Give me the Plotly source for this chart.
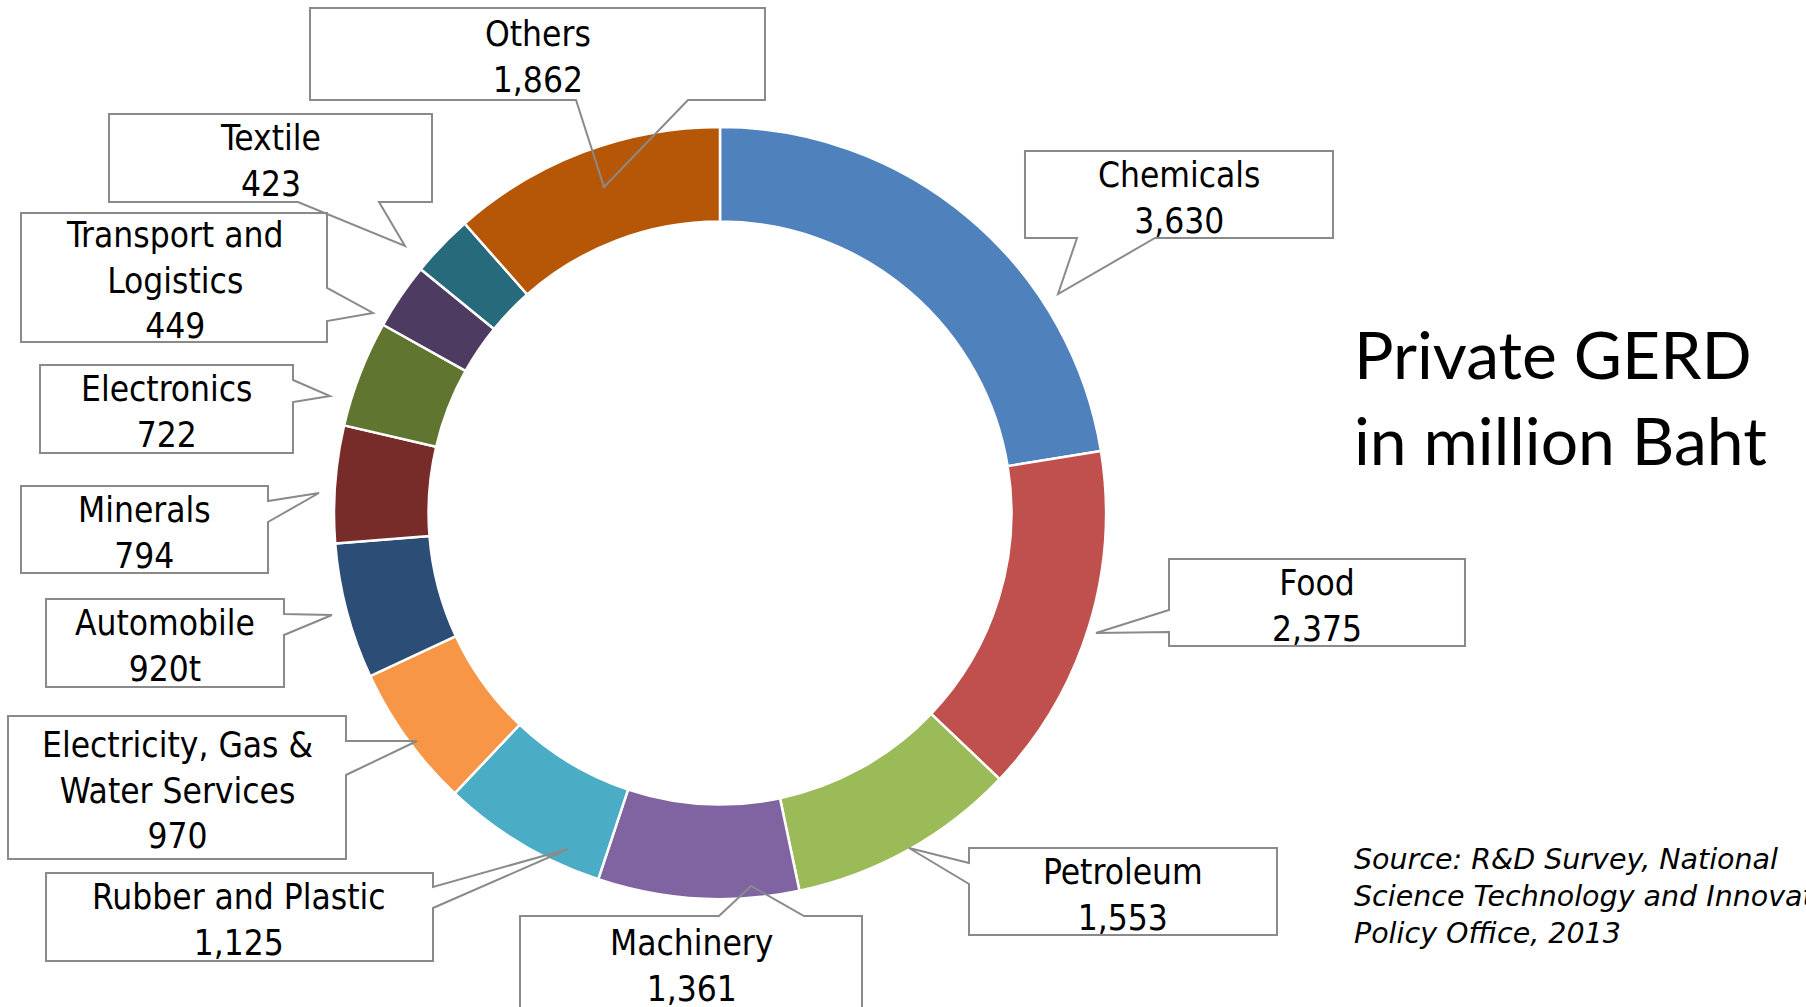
import plotly.graph_objects as go

W, H = 1806, 1007

# ---- data ----
sectors = ["Chemicals", "Food", "Petroleum", "Machinery", "Rubber and Plastic",
           "Electricity, Gas &<br>Water Services", "Automobile", "Minerals",
           "Electronics", "Transport and<br>Logistics", "Textile", "Others"]
values = [3630, 2375, 1553, 1361, 1125, 970, 920, 794, 722, 449, 423, 1862]
value_text = ["3,630", "2,375", "1,553", "1,361", "1,125", "970", "920t", "794",
              "722", "449", "423", "1,862"]
colors = ["#4F81BD", "#C0504D", "#9BBB59", "#8064A2", "#4BACC6", "#F79646",
          "#2C4D75", "#772C2A", "#5F7530", "#4D3B62", "#276A7C", "#B65708"]

# ---- layout (pixel positions of callout boxes) ----
# box = (x0, y0, x1, y1), side of tail, tail base positions along the side, tail tip
callouts = [
    dict(box=(1025, 151, 1333, 238), side="bottom", base=(1077, 1155), tip=(1058, 294)),
    dict(box=(1169, 559, 1465, 646), side="left", base=(610, 632), tip=(1096, 633)),
    dict(box=(969, 848, 1277, 935), side="left", base=(863, 884), tip=(909, 848)),
    dict(box=(520, 916, 862, 1010), side="top", base=(719, 804), tip=(751, 886)),
    dict(box=(46, 873, 433, 961), side="right", base=(887, 908), tip=(568, 849)),
    dict(box=(8, 716, 346, 859), side="right", base=(741, 775), tip=(417, 741)),
    dict(box=(46, 599, 284, 687), side="right", base=(614, 635), tip=(332, 615)),
    dict(box=(21, 486, 268, 573), side="right", base=(501, 522), tip=(319, 493)),
    dict(box=(40, 365, 293, 453), side="right", base=(380, 402), tip=(330, 396)),
    dict(box=(21, 213, 327, 342), side="right", base=(288, 321), tip=(373, 313)),
    dict(box=(109, 114, 432, 202), side="bottom", base=(298, 379), tip=(405, 246)),
    dict(box=(310, 8, 765, 100), side="bottom", base=(576, 688), tip=(604, 187)),
]
LABEL_DY = 3  # text block offset inside boxes (px)

CX, CY, R = 720, 513, 386
HOLE = 0.755

LABEL_FONT = "DejaVu Sans Condensed, Liberation Sans, sans-serif"


def px(x):
    return x / W


def py(y):
    return 1 - y / H


def callout_path(c):
    x0, y0, x1, y1 = c["box"]
    a, b = c["base"]
    tx, ty = c["tip"]
    s = c["side"]
    if s == "bottom":
        pts = [(x0, y0), (x1, y0), (x1, y1), (b, y1), (tx, ty), (a, y1), (x0, y1)]
    elif s == "top":
        pts = [(x0, y0), (a, y0), (tx, ty), (b, y0), (x1, y0), (x1, y1), (x0, y1)]
    elif s == "right":
        pts = [(x0, y0), (x1, y0), (x1, a), (tx, ty), (x1, b), (x1, y1), (x0, y1)]
    else:
        pts = [(x0, y0), (x1, y0), (x1, y1), (x0, y1), (x0, b), (tx, ty), (x0, a)]
    d = "M " + " L ".join(f"{px(x):.5f},{py(y):.5f}" for x, y in pts) + " Z"
    return d


fig = go.Figure()
fig.add_trace(go.Pie(
    labels=[s.replace("<br>", " ") for s in sectors],
    values=values,
    sort=False,
    direction="clockwise",
    rotation=0,
    hole=HOLE,
    textinfo="none",
    marker=dict(colors=colors, line=dict(color="white", width=2.5)),
    domain=dict(x=[px(CX - R), px(CX + R)], y=[py(CY + R), py(CY - R)]),
    showlegend=False,
))

shapes = []
annotations = []
for name, vt, c in zip(sectors, value_text, callouts):
    shapes.append(dict(type="path", xref="paper", yref="paper", path=callout_path(c),
                       line=dict(color="#8A8A8A", width=2), fillcolor="rgba(0,0,0,0)",
                       layer="above"))
    x0, y0, x1, y1 = c["box"]
    annotations.append(dict(
        x=px((x0 + x1) / 2), y=py((y0 + y1) / 2 + LABEL_DY), xref="paper", yref="paper",
        text=f"{name}<br>{vt}", showarrow=False, xanchor="center", yanchor="middle",
        align="center", font=dict(family=LABEL_FONT, size=35, color="black")))

annotations.append(dict(
    x=px(1352), y=py(396), xref="paper", yref="paper",
    text="Private GERD<br>in million Baht", showarrow=False,
    xanchor="left", yanchor="middle", align="left",
    font=dict(family="Lato, Open Sans, sans-serif", size=66, color="black")))

annotations.append(dict(
    x=px(1352), y=py(896), xref="paper", yref="paper",
    text="<i>Source: R&amp;D Survey, National<br>Science Technology and Innovation<br>Policy Office, 2013</i>",
    showarrow=False, xanchor="left", yanchor="middle", align="left",
    font=dict(family="DejaVu Sans, sans-serif", size=28.5, color="black")))

fig.update_layout(
    width=W, height=H,
    margin=dict(l=0, r=0, t=0, b=0),
    paper_bgcolor="white", plot_bgcolor="white",
    shapes=shapes, annotations=annotations,
)

fig.write_html("out.html")
